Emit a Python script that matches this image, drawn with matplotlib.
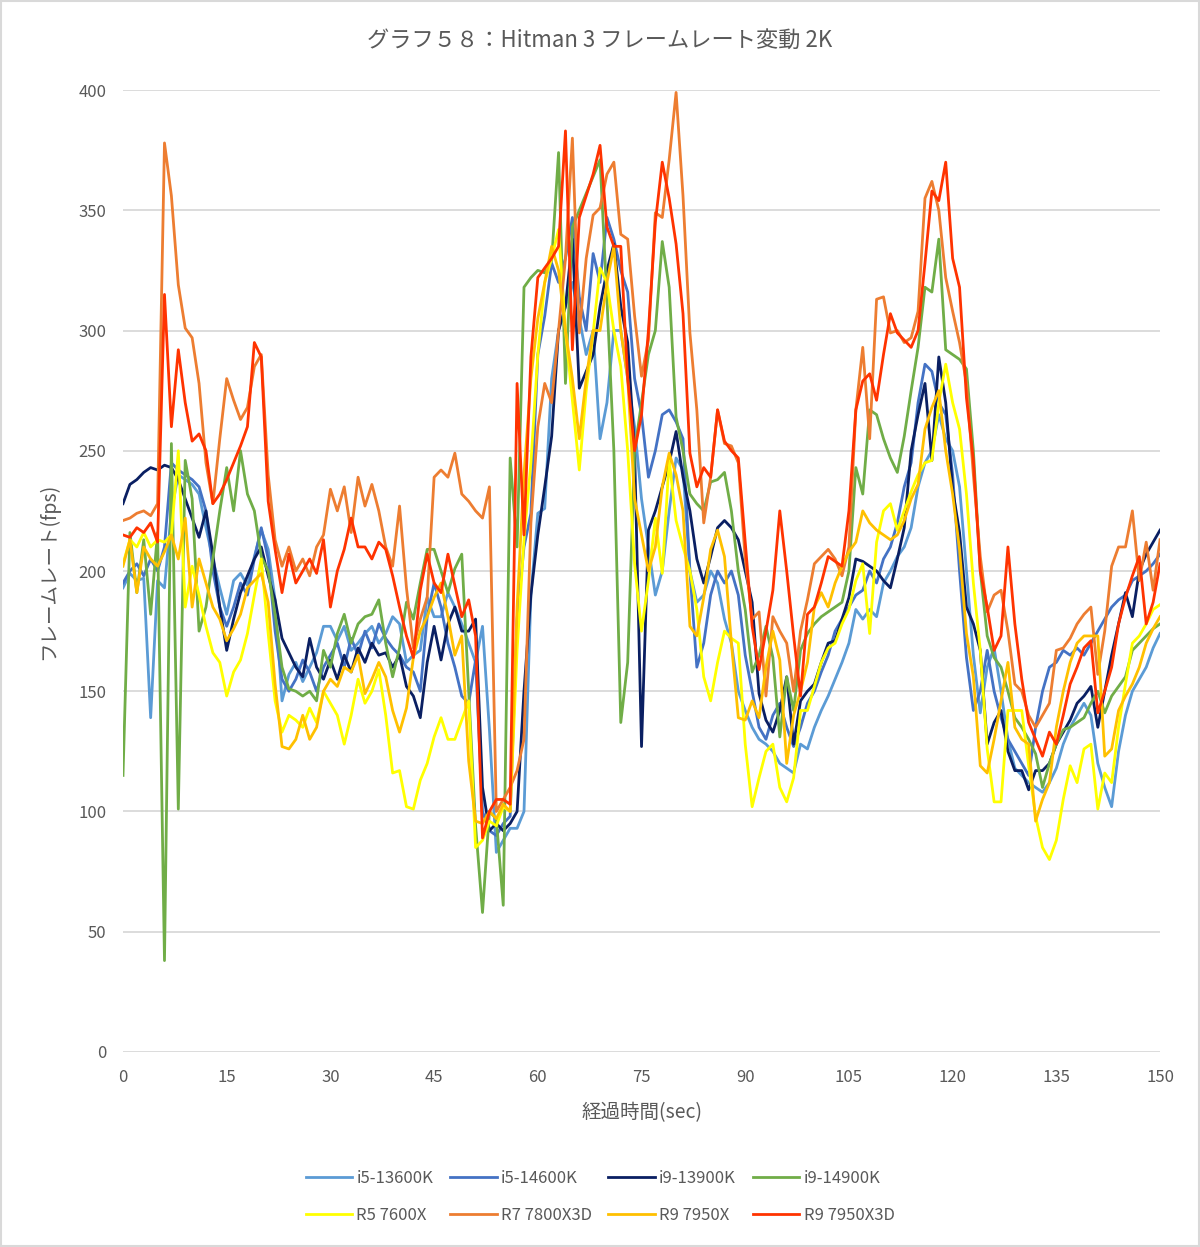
import numpy as np
import matplotlib
matplotlib.use('Agg')
from matplotlib import pyplot as plt
from matplotlib.patches import Rectangle

plt.rcParams['font.family'] = ['Noto Sans CJK JP', 'DejaVu Sans']

# elapsed time, one sample per second
seconds = np.arange(0, 151)

i5_13600k = [
    193, 199, 196, 197, 139, 196, 193, 225, 240, 238,
    236, 232, 218, 205, 193, 182, 196, 199, 194, 206,
    217, 209, 188, 146, 157, 162, 154, 160, 166, 177,
    177, 171, 177, 167, 170, 174, 177, 170, 174, 181,
    178, 162, 165, 167, 189, 181, 181, 191, 185, 178,
    170, 162, 177, 134, 83, 88, 93, 93, 100, 190,
    224, 226, 280, 300, 310, 320, 305, 290, 300, 255,
    270, 300, 300, 280, 260, 230, 210, 190, 200, 225,
    247, 242, 200, 187, 190, 200, 195, 180, 170, 150,
    142, 135, 130, 128, 125, 120, 118, 116, 128, 126,
    135, 142, 148, 155, 162, 170, 184, 180, 184, 181,
    195, 200, 206, 210, 218, 235, 245, 250, 265, 255,
    250, 235, 200, 165, 141, 160, 168, 150, 130, 118,
    115, 112, 110, 108, 112, 118, 128, 135, 140, 145,
    140, 120, 110, 102, 125, 140, 150, 155, 160, 168,
    174]

i5_14600k = [
    195, 200, 203, 198, 205, 200, 210, 245, 242, 240,
    238, 235, 225, 200, 185, 177, 185, 195, 190, 205,
    218, 205, 175, 155, 150, 155, 163, 158, 150, 160,
    165, 170, 160, 172, 165, 175, 168, 178, 172, 168,
    165, 160, 158, 150, 181, 195, 185, 170, 160, 148,
    145, 163, 100, 92, 90, 95, 98, 180, 210, 224,
    290, 306, 328, 320, 330, 347, 314, 300, 332, 320,
    347, 338, 325, 316, 280, 265, 239, 250, 265, 267,
    262, 255, 200, 160, 170, 190, 200, 195, 200, 190,
    165, 150, 135, 130, 140, 145, 135, 127, 135, 145,
    150, 158, 165, 175, 180, 185, 190, 192, 200, 195,
    205, 210, 220, 235, 245, 270, 286, 283, 270, 265,
    240, 200, 164, 142, 150, 167, 150, 139, 130, 125,
    120, 115, 135, 150, 160, 162, 167, 165, 168, 165,
    170, 175, 180, 185, 188, 190, 196, 198, 200, 203,
    207]

i9_13900k = [
    228, 236, 238, 241, 243, 242, 244, 243, 238, 230,
    222, 214, 225, 207, 185, 167, 180, 191, 198, 205,
    210, 198, 188, 172, 166, 160, 156, 172, 160, 155,
    163, 155, 165, 158, 168, 162, 170, 165, 166, 160,
    165, 152, 148, 139, 162, 177, 163, 178, 185, 175,
    175, 180, 110, 92, 95, 92, 95, 100, 150, 190,
    215, 235, 256, 300, 310, 338, 276, 283, 290, 310,
    325, 336, 310, 295, 250, 127, 217, 225, 235, 245,
    258, 239, 225, 205, 195, 206, 218, 221, 218, 213,
    200, 187, 149, 138, 133, 142, 156, 128, 146, 150,
    153, 162, 170, 171, 180, 189, 205, 204, 202, 200,
    196, 193, 205, 218, 250, 265, 278, 246, 289, 270,
    234, 216, 185, 178, 167, 128, 137, 142, 125, 117,
    117, 109, 117, 117, 120, 128, 133, 138, 145, 148,
    152, 135, 150, 165, 178, 191, 181, 200, 207, 212,
    217]

i9_14900k = [
    115, 216, 191, 213, 182, 216, 38, 253, 101, 246,
    230, 175, 185, 205, 225, 243, 225, 250, 232, 225,
    206, 200, 182, 160, 151, 150, 148, 150, 146, 167,
    160, 174, 182, 170, 178, 181, 182, 188, 170, 156,
    168, 187, 180, 195, 209, 209, 200, 191, 201, 207,
    150, 94, 58, 100, 97, 61, 247, 210, 318, 322,
    325, 324, 329, 374, 278, 343, 350, 357, 364, 371,
    313, 250, 137, 162, 250, 270, 290, 300, 337, 318,
    264, 250, 232, 228, 225, 237, 238, 241, 225, 200,
    184, 158, 165, 177, 164, 131, 156, 142, 167, 174,
    178, 181, 183, 185, 187, 200, 243, 232, 267, 265,
    255, 247, 241, 256, 275, 293, 318, 316, 338, 292,
    290, 288, 284, 250, 200, 173, 164, 160, 150, 139,
    135, 130, 124, 110, 120, 128, 134, 135, 137, 139,
    145, 150, 141, 148, 152, 156, 167, 170, 173, 176,
    178]

r5_7600x = [
    203, 213, 210, 216, 210, 213, 212, 215, 250, 185,
    202, 190, 177, 166, 162, 148, 158, 163, 174, 190,
    205, 174, 146, 133, 140, 138, 135, 143, 137, 150,
    145, 140, 128, 140, 155, 145, 150, 159, 140, 116,
    117, 102, 101, 113, 120, 131, 139, 130, 130, 138,
    146, 85, 88, 96, 94, 102, 100, 167, 213, 245,
    290, 320, 330, 342, 300, 271, 242, 275, 299, 326,
    320, 300, 285, 250, 203, 175, 196, 222, 199, 246,
    221, 210, 200, 184, 156, 146, 162, 175, 172, 170,
    128, 102, 114, 125, 128, 110, 104, 114, 142, 142,
    152, 162, 168, 170, 178, 184, 196, 203, 174, 212,
    225, 228, 217, 225, 233, 240, 245, 246, 270, 286,
    270, 259, 232, 195, 167, 126, 104, 104, 142, 142,
    142, 119, 98, 85, 80, 88, 105, 119, 112, 126,
    128, 101, 116, 112, 135, 153, 170, 173, 178, 184,
    186]

r7_7800x3d = [
    221, 222, 224, 225, 223, 228, 378, 356, 319, 301,
    297, 278, 245, 228, 255, 280, 271, 263, 268, 285,
    290, 240, 213, 202, 210, 200, 205, 198, 210, 215,
    234, 225, 235, 216, 239, 227, 236, 225, 210, 202,
    227, 193, 168, 180, 189, 239, 242, 239, 249, 232,
    229, 225, 222, 235, 100, 105, 110, 117, 130, 220,
    260, 278, 270, 300, 330, 380, 299, 330, 348, 351,
    365, 370, 340, 338, 306, 281, 296, 349, 347, 371,
    399, 356, 299, 267, 220, 239, 267, 253, 252, 245,
    205, 180, 183, 148, 181, 175, 170, 150, 175, 188,
    203, 206, 209, 205, 198, 210, 267, 293, 255, 313,
    314, 299, 300, 295, 297, 308, 355, 362, 350, 322,
    308, 295, 278, 240, 206, 183, 190, 192, 175, 153,
    150, 140, 135, 140, 145, 167, 168, 172, 178, 182,
    185, 157, 175, 202, 210, 210, 225, 196, 212, 192,
    213]

r9_7950x = [
    202, 213, 191, 210, 205, 202, 208, 215, 205, 222,
    185, 205, 195, 185, 180, 171, 176, 182, 193, 196,
    199, 187, 153, 127, 126, 130, 140, 130, 135, 150,
    155, 152, 160, 158, 165, 149, 155, 162, 156, 142,
    133, 143, 164, 175, 181, 189, 195, 181, 165, 173,
    121, 96, 95, 100, 97, 103, 100, 185, 240, 280,
    305, 320, 335, 325, 300, 280, 255, 280, 300, 300,
    320, 335, 300, 280, 230, 215, 200, 210, 235, 249,
    240, 225, 177, 173, 189, 209, 217, 206, 170, 139,
    138, 146, 139, 160, 175, 163, 120, 140, 150, 162,
    185, 191, 185, 195, 202, 208, 212, 225, 220, 217,
    215, 213, 215, 221, 230, 236, 259, 268, 275, 250,
    232, 209, 174, 156, 119, 116, 130, 146, 162, 135,
    130, 128, 96, 105, 112, 135, 150, 162, 170, 173,
    173, 173, 123, 126, 142, 148, 153, 160, 170, 176,
    181]

r9_7950x3d = [
    215, 214, 218, 216, 220, 212, 315, 260, 292, 270,
    254, 257, 250, 228, 232, 238, 245, 252, 260, 295,
    289, 229, 209, 191, 207, 195, 200, 205, 199, 213,
    185, 200, 209, 222, 210, 210, 205, 212, 209, 198,
    185, 173, 164, 192, 207, 195, 191, 207, 194, 181,
    188, 173, 89, 100, 105, 105, 103, 278, 215, 289,
    322, 326, 330, 335, 383, 292, 347, 356, 365, 377,
    343, 335, 335, 280, 250, 265, 300, 345, 370, 355,
    336, 307, 249, 235, 243, 239, 267, 254, 250, 247,
    212, 177, 159, 175, 192, 225, 200, 173, 148, 182,
    185, 195, 206, 204, 202, 225, 267, 279, 282, 271,
    290, 307, 299, 296, 293, 300, 328, 358, 354, 370,
    330, 318, 272, 246, 200, 185, 167, 173, 210, 178,
    155, 137, 130, 123, 133, 128, 140, 153, 160, 168,
    171, 141, 150, 160, 178, 189, 198, 206, 178, 187,
    203]

series_names = ['i5-13600K', 'i5-14600K', 'i9-13900K', 'i9-14900K',
                'R5 7600X', 'R7 7800X3D', 'R9 7950X', 'R9 7950X3D']
series_values = [i5_13600k, i5_14600k, i9_13900k, i9_14900k,
                 r5_7600x, r7_7800x3d, r9_7950x, r9_7950x3d]
series_colors = ['#5B9BD5', '#4472C4', '#0A1F62', '#70AD47',
                 '#FFFF00', '#ED7D31', '#FFC000', '#FF3300']

text_color = '#595959'

fig = plt.figure(figsize=(12, 12.47), dpi=100)
ax = fig.add_axes([0.1025, 0.1564, 0.8642, 0.7714])

handles = []
for name, vals, col in zip(series_names, series_values, series_colors):
    line, = ax.plot(seconds, vals, color=col, linewidth=2.0, label=name)
    handles.append(line)

ax.set_xlim(0, 150)
ax.set_ylim(0, 400)
ax.set_xticks(range(0, 151, 15))
ax.set_yticks(range(0, 401, 50))
ax.grid(axis='y', color='#D9D9D9', linewidth=1.3)
ax.set_axisbelow(True)
for side in ['top', 'right', 'left', 'bottom']:
    ax.spines[side].set_visible(False)
ax.tick_params(length=0, labelsize=12, colors=text_color, pad=12)

ax.set_xlabel('経過時間(sec)', fontsize=14, color=text_color, labelpad=12)
ax.set_ylabel('フレームレート(fps)', fontsize=14, color=text_color, labelpad=14)
fig.text(0.5, 0.968, 'グラフ５８：Hitman 3 フレームレート変動 2K',
         ha='center', va='center', fontsize=16, color=text_color)

# legend fills column by column, so interleave to get the two rows right
order = [0, 4, 1, 5, 2, 6, 3, 7]
fig.legend([handles[i] for i in order], [series_names[i] for i in order],
           loc='center', bbox_to_anchor=(0.5, 0.04), ncol=4, frameon=False,
           fontsize=12, handlelength=2.8, columnspacing=1.0,
           labelspacing=1.2, handletextpad=0.25, labelcolor=text_color)

# thin frame round the whole chart
fig.patches.append(Rectangle((0.001, 0.001), 0.998, 0.998, transform=fig.transFigure,
                             fill=False, edgecolor='#D9D9D9', linewidth=1.5))

fig.savefig('out.png', dpi=100)
